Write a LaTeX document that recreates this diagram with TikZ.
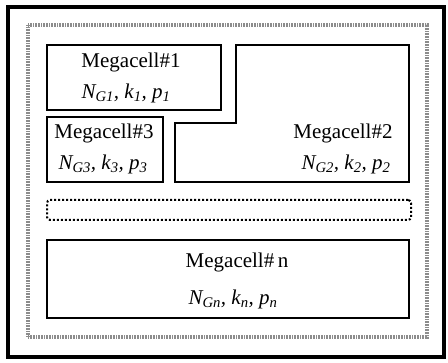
\documentclass[tikz,border=0pt]{standalone}
\usepackage{fontspec}
\setmainfont{Liberation Serif}
\begin{document}
\begin{tikzpicture}[x=1pt,y=-1pt,
  cellbox/.style={draw=black,line width=2.4pt,rectangle,inner sep=0pt},
  lbl/.style={font=\fontsize{21}{24}\selectfont,inner sep=0pt},
  par/.style={font=\fontsize{21}{24}\selectfont\itshape,inner sep=0pt}]
\useasboundingbox (0,0) rectangle (448,363);
% outer frame
\node[draw=black,line width=4.5pt,minimum width=436pt,minimum height=350pt,inner sep=0pt] (frame) at (226,182) {};
% inner textured frame
\node[draw=black!45,line width=3.5pt,dash pattern=on 1pt off 0.6pt,minimum width=399pt,minimum height=312pt,inner sep=0pt] (inner) at (227.5,181) {};
% Megacell 1
\node[cellbox,minimum width=174pt,minimum height=65pt] (m1) at (134,77.5) {};
\node[lbl] (m1a) at (131,62) {Megacell\#1};
\node[par] (m1b) at (126,93) {N\textsubscript{G1}, k\textsubscript{1}, p\textsubscript{1}};
% Megacell 3
\node[cellbox,minimum width=116pt,minimum height=65pt] (m3) at (105,149.5) {};
\node[lbl] (m3a) at (104,133) {Megacell\#3};
\node[par] (m3b) at (103,164) {N\textsubscript{G3}, k\textsubscript{3}, p\textsubscript{3}};
% Megacell 2 (L-shaped)
\coordinate (c1) at (175,123);
\coordinate (c2) at (236,123);
\coordinate (c3) at (236,45);
\coordinate (c4) at (409,45);
\coordinate (c5) at (409,182);
\coordinate (c6) at (175,182);
\draw[line width=2.4pt,line join=miter] (c1) -- (c2) -- (c3) -- (c4) -- (c5) -- (c6) -- cycle;
\node[lbl] (m2a) at (343,133) {Megacell\#2};
\node[par] (m2b) at (346,164) {N\textsubscript{G2}, k\textsubscript{2}, p\textsubscript{2}};
% dotted placeholder
\node[draw=black,line width=2pt,dotted,rounded corners=3pt,minimum width=364pt,minimum height=20pt,inner sep=0pt] (dots) at (229,210) {};
% Megacell n
\node[cellbox,minimum width=362pt,minimum height=78pt] (mn) at (228,279) {};
\node[lbl] (mna) at (237,262) {Megacell\#\,n};
\node[par] (mnb) at (233,299) {N\textsubscript{Gn}, k\textsubscript{n}, p\textsubscript{n}};
\end{tikzpicture}
\end{document}
